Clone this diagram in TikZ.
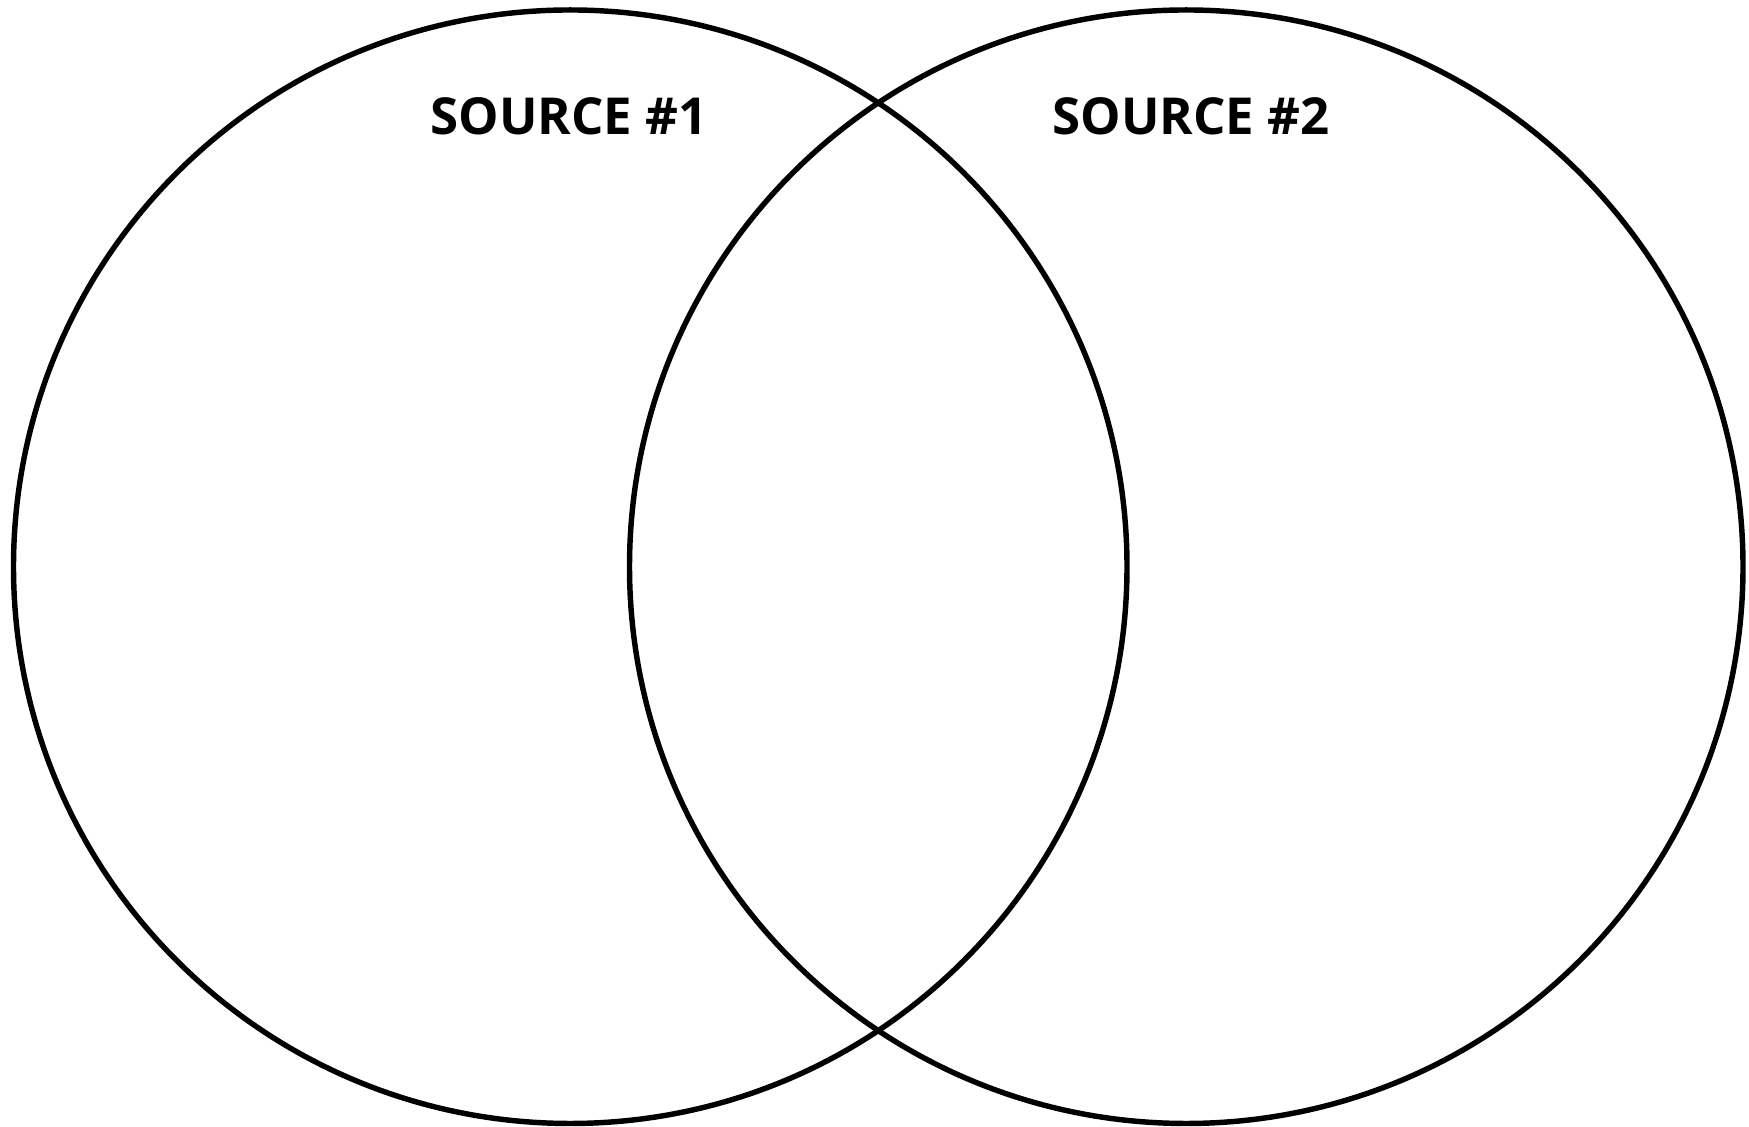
\documentclass[tikz,border=0pt]{standalone}
\usepackage{fontspec}
\setmainfont{Open Sans}
\usepackage{tikz}

\begin{document}
\begin{tikzpicture}[x=1cm,y=1cm,
    ring/.style={draw=black,line width=1.55pt,circle,minimum size=11.135cm,
                 inner sep=0pt,outer sep=0pt},
    ttl/.style={anchor=base,font=\fontsize{14.5}{17}\selectfont\bfseries,inner sep=0pt}]
  \useasboundingbox (0,0) rectangle (17.49,11.27);

  \node[ring] (src1) at (5.7025,5.6025) {};
  \node[ring] (src2) at (11.8625,5.6025) {};

  \node[ttl] (lbl1) at (5.69,9.92) {SOURCE \#1};
  \node[ttl] (lbl2) at (11.91,9.92) {SOURCE \#2};
\end{tikzpicture}
\end{document}
